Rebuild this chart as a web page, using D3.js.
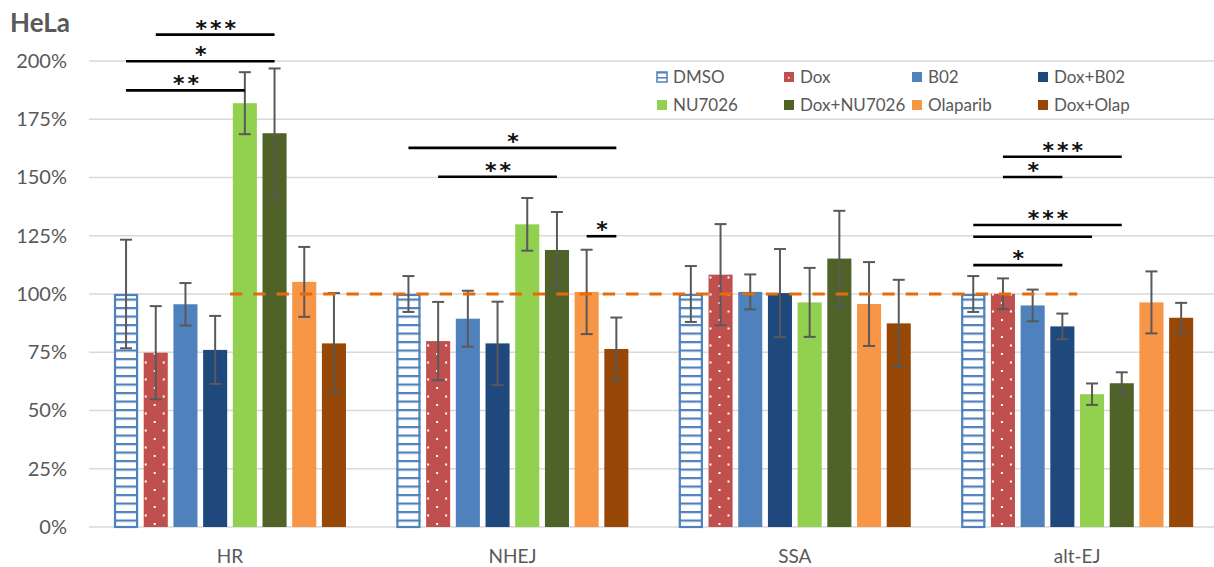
<!DOCTYPE html>
<html>
<head>
<meta charset="utf-8">
<script src="https://cdn.jsdelivr.net/npm/d3@7"></script>
<style>
  html, body { margin: 0; padding: 0; background: #ffffff; }
  svg { display: block; }
</style>
</head>
<body>
<svg id="chart" width="1214" height="567"></svg>
<script>
// ---------------- data ----------------
const title = "HeLa";
const categories = ["HR", "NHEJ", "SSA", "alt-EJ"];
const seriesNames = ["DMSO", "Dox", "B02", "Dox+B02", "NU7026", "Dox+NU7026", "Olaparib", "Dox+Olap"];

const dmsoValues     = [100.0, 100.0, 100.0, 100.0];
const doxValues      = [74.8, 79.8, 108.3, 100.1];
const b02Values      = [95.6, 89.4, 100.9, 95.1];
const doxB02Values   = [76.0, 78.8, 100.4, 86.1];
const nuValues       = [181.9, 129.9, 96.4, 57.0];
const doxNuValues    = [169.0, 118.9, 115.2, 61.7];
const olapValues     = [105.2, 100.9, 95.7, 96.4];
const doxOlapValues  = [78.8, 76.4, 87.4, 89.8];

const dmsoErrors     = [23.3, 7.7, 12.0, 7.7];
const doxErrors      = [20.0, 16.8, 21.7, 6.6];
const b02Errors      = [9.1, 12.0, 7.5, 6.8];
const doxB02Errors   = [14.6, 17.9, 18.9, 5.5];
const nuErrors       = [13.3, 11.3, 14.8, 4.6];
const doxNuErrors    = [27.8, 16.3, 20.5, 4.7];
const olapErrors     = [15.0, 18.1, 18.0, 13.3];
const doxOlapErrors  = [21.6, 13.5, 18.7, 6.4];

const referenceLine  = [100, 100, 100, 100];

const yTicks = [0, 25, 50, 75, 100, 125, 150, 175, 200];

// significance brackets: category, from series, to series, height (%), label
const sigCategory = ["HR", "HR", "HR", "NHEJ", "NHEJ", "NHEJ", "alt-EJ", "alt-EJ", "alt-EJ", "alt-EJ", "alt-EJ"];
const sigFrom     = ["Dox", "DMSO", "DMSO", "DMSO", "Dox", "Olaparib", "Dox", "Dox", "DMSO", "DMSO", "DMSO"];
const sigTo       = ["Dox+NU7026", "Dox+NU7026", "NU7026", "Dox+Olap", "Dox+NU7026", "Dox+Olap", "Dox+NU7026", "Dox+B02", "Dox+NU7026", "NU7026", "Dox+B02"];
const sigHeight   = [211.3, 199.9, 187.4, 162.7, 150.3, 124.8, 158.9, 150.2, 129.6, 124.6, 112.4];
const sigLabel    = ["***", "*", "**", "*", "**", "*", "***", "*", "***", "", "*"];

// ---------------- styles ----------------
const seriesColors = ["#4F81BD", "#C0504D", "#4F81BD", "#1F497D", "#92D050", "#4F6228", "#F79646", "#974706"];
const textColor = "#595959";
const gridColor = "#D9D9D9";
const fontFamily = "Lato, 'Open Sans', 'Liberation Sans', sans-serif";

const allValues = [dmsoValues, doxValues, b02Values, doxB02Values, nuValues, doxNuValues, olapValues, doxOlapValues];
const allErrors = [dmsoErrors, doxErrors, b02Errors, doxB02Errors, nuErrors, doxNuErrors, olapErrors, doxOlapErrors];

// ---------------- chart ----------------
const svg = d3.select("#chart");
const W = 1214, H = 567;

const y = d3.scaleLinear().domain([0, 200]).range([527, 61]);
const x0 = d3.scaleBand().domain(categories).range([88.8, 1218.4]).paddingInner(0).paddingOuter(0);
const x1 = d3.scaleBand().domain(seriesNames).range([22.4, 260]).paddingInner(0.19).paddingOuter(0.095);

// patterns
const defs = svg.append("defs");
const dmsoPat = defs.append("pattern")
  .attr("id", "patDMSO").attr("patternUnits", "userSpaceOnUse")
  .attr("x", 0).attr("y", y(0) + 1).attr("width", 8).attr("height", 8.5);
dmsoPat.append("rect").attr("width", 8).attr("height", 8.5).attr("fill", "#ffffff");
dmsoPat.append("rect").attr("y", 0).attr("width", 8).attr("height", 2.2).attr("fill", seriesColors[0]);

const doxPat = defs.append("pattern")
  .attr("id", "patDox").attr("patternUnits", "userSpaceOnUse")
  .attr("x", x1("Dox") + 1).attr("y", y(0) - 4).attr("width", 18).attr("height", 17);
doxPat.append("rect").attr("width", 18).attr("height", 17).attr("fill", seriesColors[1]);
doxPat.append("rect").attr("x", 0).attr("y", 8.5).attr("width", 2).attr("height", 2).attr("fill", "#ffffff");
doxPat.append("rect").attr("x", 9).attr("y", 0).attr("width", 2).attr("height", 2).attr("fill", "#ffffff");

const legendDmsoPat = defs.append("pattern")
  .attr("id", "patDMSOleg").attr("patternUnits", "userSpaceOnUse")
  .attr("x", 0).attr("y", 0).attr("width", 8).attr("height", 5);
legendDmsoPat.append("rect").attr("width", 8).attr("height", 5).attr("fill", "#ffffff");
legendDmsoPat.append("rect").attr("y", 0).attr("width", 8).attr("height", 1.5).attr("fill", seriesColors[0]);

function fillFor(i) {
  if (i === 0) return "url(#patDMSO)";
  if (i === 1) return "url(#patDox)";
  return seriesColors[i];
}

// gridlines
svg.append("g").selectAll("line").data(yTicks).join("line")
  .attr("x1", 89).attr("x2", W)
  .attr("y1", d => y(d)).attr("y2", d => y(d))
  .attr("stroke", gridColor).attr("stroke-width", 1.5);

// y axis labels
const yAxis = d3.axisLeft(y).tickValues(yTicks).tickFormat(d => d + "%").tickSize(0).tickPadding(0);
const yg = svg.append("g").attr("transform", "translate(67,0)").call(yAxis);
yg.select(".domain").remove();
yg.selectAll("text").attr("fill", textColor).attr("font-family", fontFamily).attr("font-size", 20);

// x axis labels
const xAxis = d3.axisBottom(x0).tickSize(0).tickPadding(0);
const xg = svg.append("g").attr("transform", "translate(0,549)").call(xAxis);
xg.select(".domain").remove();
xg.selectAll("text").attr("fill", textColor).attr("font-family", fontFamily).attr("font-size", 19).attr("dy", "0.71em");

// bars
const rows = [];
categories.forEach((c, ci) => {
  seriesNames.forEach((s, si) => {
    rows.push({cat: c, ser: s, si: si, v: allValues[si][ci], e: allErrors[si][ci]});
  });
});

const groups = svg.append("g").selectAll("g").data(categories).join("g")
  .attr("transform", c => `translate(${x0(c)},0)`);

groups.selectAll("rect.bar").data(c => rows.filter(r => r.cat === c)).join("rect")
  .attr("class", "bar")
  .attr("x", d => x1(d.ser))
  .attr("width", x1.bandwidth())
  .attr("y", d => y(d.v))
  .attr("height", d => y(0) - y(d.v))
  .attr("fill", d => fillFor(d.si));

// DMSO outline
groups.selectAll("rect.outline").data(c => rows.filter(r => r.cat === c && r.si === 0)).join("rect")
  .attr("class", "outline")
  .attr("x", d => x1(d.ser) + 1)
  .attr("width", x1.bandwidth() - 2)
  .attr("y", d => y(d.v) + 1)
  .attr("height", d => y(0) - y(d.v) - 1)
  .attr("fill", "none").attr("stroke", seriesColors[0]).attr("stroke-width", 2.2);

// error bars
const capHalf = 6;
const eb = groups.selectAll("g.err").data(c => rows.filter(r => r.cat === c)).join("g").attr("class", "err")
  .attr("stroke", "#595959").attr("stroke-width", 2);
eb.append("line")
  .attr("x1", d => x1(d.ser) + x1.bandwidth() / 2).attr("x2", d => x1(d.ser) + x1.bandwidth() / 2)
  .attr("y1", d => y(d.v + d.e)).attr("y2", d => y(d.v - d.e));
eb.append("line")
  .attr("x1", d => x1(d.ser) + x1.bandwidth() / 2 - capHalf).attr("x2", d => x1(d.ser) + x1.bandwidth() / 2 + capHalf)
  .attr("y1", d => y(d.v + d.e)).attr("y2", d => y(d.v + d.e));
eb.append("line")
  .attr("x1", d => x1(d.ser) + x1.bandwidth() / 2 - capHalf).attr("x2", d => x1(d.ser) + x1.bandwidth() / 2 + capHalf)
  .attr("y1", d => y(d.v - d.e)).attr("y2", d => y(d.v - d.e));

// reference dashed line
const refLine = d3.line().x((d, i) => x0(categories[i]) + x0.bandwidth() / 2).y(d => y(d));
svg.append("path").datum(referenceLine)
  .attr("d", refLine)
  .attr("fill", "none").attr("stroke", "#E46C0A").attr("stroke-width", 3.2)
  .attr("stroke-dasharray", "12.3,11");

// significance brackets
const sig = sigCategory.map((c, i) => ({
  x1: x0(c) + x1(sigFrom[i]) + x1.bandwidth() / 2,
  x2: x0(c) + x1(sigTo[i]) + x1.bandwidth() / 2,
  yv: sigHeight[i], label: sigLabel[i]
}));
const sg = svg.append("g").selectAll("g").data(sig).join("g");
sg.append("line")
  .attr("x1", d => d.x1).attr("x2", d => d.x2)
  .attr("y1", d => y(d.yv)).attr("y2", d => y(d.yv))
  .attr("stroke", "#000").attr("stroke-width", 2.6);
sg.filter(d => d.label !== "").append("text")
  .attr("x", d => (d.x1 + d.x2) / 2 + 2)
  .attr("y", d => y(d.yv) + 1)
  .attr("text-anchor", "middle")
  .attr("font-family", "'DejaVu Sans', sans-serif")
  .attr("font-weight", "bold")
  .attr("font-size", 22)
  .attr("letter-spacing", 3)
  .attr("fill", "#111")
  .text(d => d.label);

// title
svg.append("text").attr("x", 10).attr("y", 32)
  .attr("font-family", fontFamily).attr("font-weight", "bold").attr("font-size", 26)
  .attr("fill", textColor).text(title);

// legend
const legColX = [657, 784, 912, 1038];
const legRowY = [77, 105];
const leg = svg.append("g").selectAll("g").data(seriesNames).join("g")
  .attr("transform", (d, i) => `translate(${legColX[i % 4]},${legRowY[Math.floor(i / 4)]})`);
leg.append("rect")
  .attr("x", 0).attr("y", -5).attr("width", 10).attr("height", 10)
  .attr("fill", (d, i) => i === 0 ? "url(#patDMSOleg)" : seriesColors[i])
  .attr("stroke", (d, i) => i === 0 ? seriesColors[0] : "none")
  .attr("stroke-width", 1.5);
leg.filter((d, i) => i === 1).append("rect")
  .attr("x", 4).attr("y", 0).attr("width", 1.5).attr("height", 1.5).attr("fill", "#fff");
leg.append("text")
  .attr("x", 16).attr("y", 0).attr("dy", "0.36em")
  .attr("font-family", fontFamily).attr("font-size", 17)
  .attr("fill", textColor).text(d => d);
</script>
</body>
</html>
